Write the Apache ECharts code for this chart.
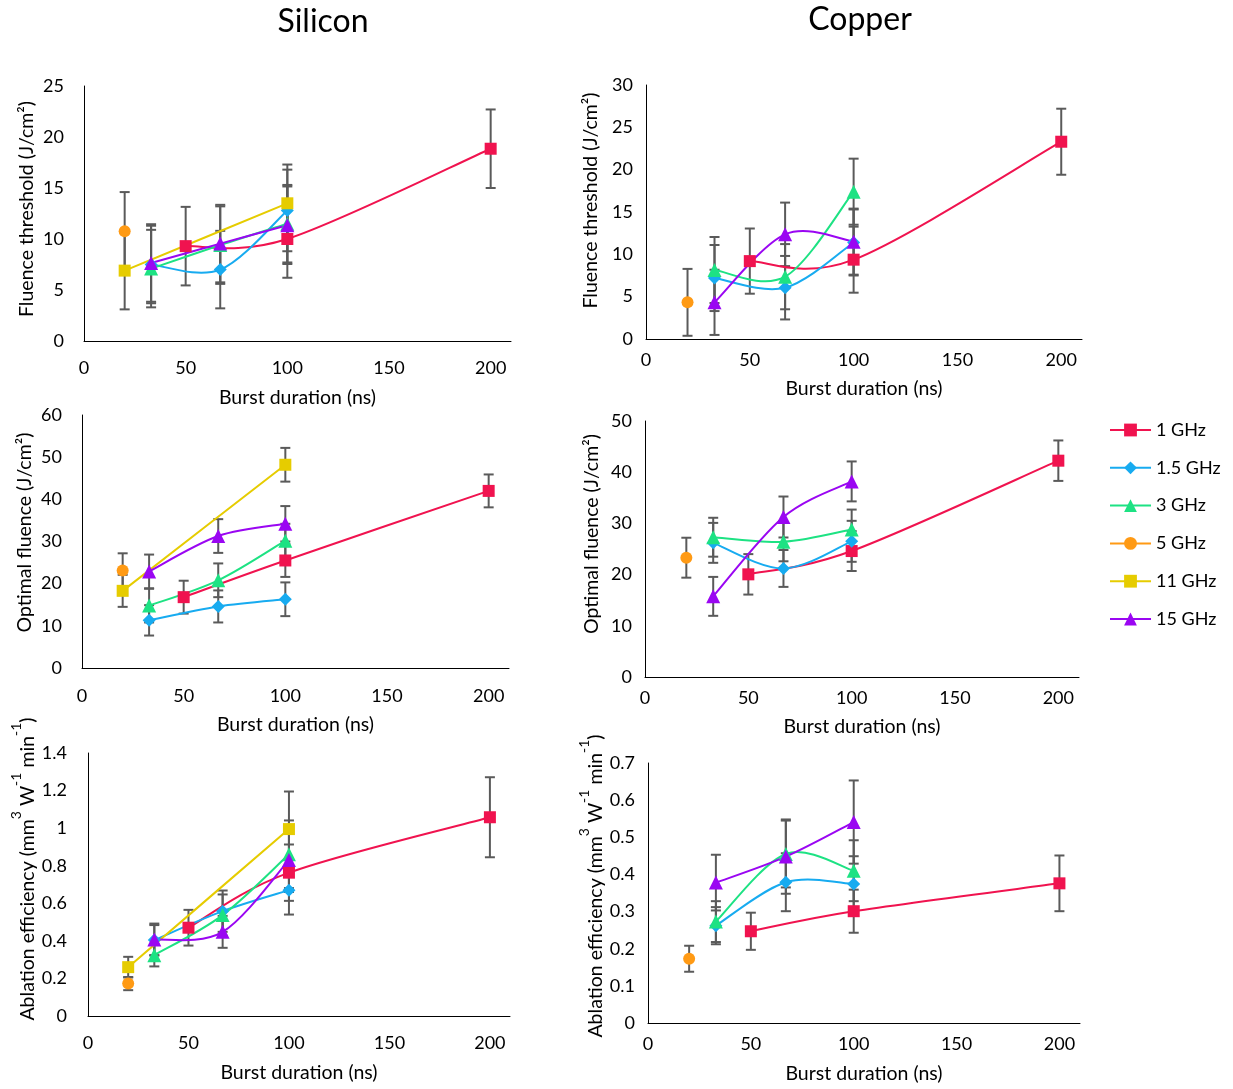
<!DOCTYPE html>
<html>
<head>
<meta charset="utf-8">
<title>Burst duration study – Silicon and Copper</title>
<script src="https://cdn.jsdelivr.net/npm/echarts@6/dist/echarts.min.js"></script>
<style>
  html, body { margin: 0; padding: 0; background: #fff; }
  #chart { width: 1233px; height: 1089px; }
</style>
</head>
<body>
<div id="chart"></div>
<script>
// Repetition frequencies within the burst (series order used everywhere below)
const freqNames = ['1 GHz', '1.5 GHz', '3 GHz', '5 GHz', '11 GHz', '15 GHz'];

// Burst durations (ns) measured for each frequency
const siDurations = [[50, 100, 200], [33, 67, 100], [33, 67, 100], [20], [20, 100], [33, 67, 100]];
const cuDurations = [[50, 100, 200], [33, 67, 100], [33, 67, 100], [20], [], [33, 67, 100]];

// Silicon – fluence threshold (J/cm²) and its uncertainty
const siThresholdVal = [[9.3, 10.0, 18.85], [7.5, 7.0, 12.8], [7.1, 9.4, 11.5], [10.75], [6.9, 13.5], [7.65, 9.55, 11.35]];
const siThresholdErr = [[3.85, 3.8, 3.85], [3.8, 3.8, 4.0], [3.8, 3.8, 3.8], [3.85], [3.8, 3.8], [3.8, 3.8, 3.8]];

// Copper – fluence threshold (J/cm²)
const cuThresholdVal = [[9.2, 9.37, 23.3], [7.2, 6.06, 11.4], [8.15, 7.36, 17.4], [4.33], [], [4.33, 12.36, 11.5]];
const cuThresholdErr = [[3.85, 3.9, 3.9], [3.9, 3.75, 3.9], [3.9, 3.85, 3.9], [3.95], [], [3.85, 3.75, 3.9]];

// Silicon – optimal fluence (J/cm²)
const siOptimalVal = [[16.8, 25.5, 42.0], [11.3, 14.6, 16.3], [14.8, 20.8, 30.2], [23.1], [18.3, 48.2], [22.9, 31.3, 34.2]];
const siOptimalErr = [[3.9, 3.9, 3.9], [3.6, 3.8, 4.0], [4.0, 4.0, 4.0], [4.1], [3.8, 4.0], [4.0, 4.0, 4.2]];

// Copper – optimal fluence (J/cm²)
const cuOptimalVal = [[20.05, 24.6, 42.25], [26.2, 21.2, 26.5], [27.3, 26.4, 28.8], [23.3], [], [15.75, 31.25, 38.2]];
const cuOptimalErr = [[3.95, 3.9, 3.95], [3.9, 3.6, 4.0], [3.8, 3.8, 3.9], [3.9], [], [3.8, 4.0, 3.9]];

// Silicon – ablation efficiency (mm³ W⁻¹ min⁻¹)
const siEfficiencyVal = [[0.47, 0.763, 1.058], [0.404, 0.558, 0.67], [0.324, 0.537, 0.861], [0.1725], [0.26, 0.995], [0.407, 0.448, 0.83]];
const siEfficiencyErr = [[0.095, 0.15, 0.213], [0.08, 0.11, 0.13], [0.06, 0.11, 0.18], [0.035], [0.055, 0.2], [0.085, 0.085, 0.17]];

// Copper – ablation efficiency (mm³ W⁻¹ min⁻¹)
const cuEfficiencyVal = [[0.247, 0.301, 0.376], [0.262, 0.379, 0.374], [0.273, 0.455, 0.41], [0.173], [], [0.378, 0.448, 0.541]];
const cuEfficiencyErr = [[0.05, 0.058, 0.075], [0.05, 0.078, 0.075], [0.055, 0.09, 0.082], [0.035], [], [0.075, 0.1, 0.112]];

// Axis ranges
const xTicks = { min: 0, max: 210, interval: 50 };
const yRanges = [
  { max: 25, interval: 5 }, { max: 30, interval: 5 },
  { max: 60, interval: 10 }, { max: 50, interval: 10 },
  { max: 1.4, interval: 0.2 }, { max: 0.7, interval: 0.1 }
];

// ---------- styling ----------
const FONT = 'Lato, "Open Sans", sans-serif';
const NAME_SIZE = 19.5;
const freqColors = ['#F0134F', '#17ABF0', '#1DE283', '#FF9A14', '#E6CC00', '#9A06F2'];
const freqSymbols = ['rect', 'diamond', 'triangle', 'circle', 'rect', 'triangle'];
const freqSymbolSizes = [12, 13, 14, 12, 12, 14];

const effName = '{b|Ablation efficiency (mm}{s|3}{b| W}{s|-1}{b| min}{s|-1}{b|)}';
const effRich = {
  b: { fontSize: NAME_SIZE, lineHeight: 20, verticalAlign: 'bottom', fontFamily: FONT, color: '#000' },
  s: { fontSize: 14, lineHeight: 28, verticalAlign: 'top', fontFamily: FONT, color: '#000' }
};

const panels = [
  { grid: { left: 84, top: 86, width: 427, height: 255 }, vals: siThresholdVal, errs: siThresholdErr, durs: siDurations,
    yName: 'Fluence threshold (J/cm²)', yLabelMargin: 20, xLabelMargin: 18, xNameGap: 47, yNameGap: 47, yNameShift: 9 },
  { grid: { left: 646, top: 85, width: 436, height: 254 }, vals: cuThresholdVal, errs: cuThresholdErr, durs: cuDurations,
    yName: 'Fluence threshold (J/cm²)', yLabelMargin: 13, xLabelMargin: 12, xNameGap: 40, yNameGap: 45, yNameShift: 23 },
  { grid: { left: 82, top: 415, width: 427, height: 253 }, vals: siOptimalVal, errs: siOptimalErr, durs: siDurations,
    yName: 'Optimal fluence (J/cm²)', yLabelMargin: 20, xLabelMargin: 19, xNameGap: 47, yNameGap: 47, yNameShift: 18 },
  { grid: { left: 645, top: 421, width: 434, height: 256 }, vals: cuOptimalVal, errs: cuOptimalErr, durs: cuDurations,
    yName: 'Optimal fluence (J/cm²)', yLabelMargin: 13, xLabelMargin: 12, xNameGap: 40, yNameGap: 43, yNameShift: 30 },
  { grid: { left: 88, top: 753, width: 422, height: 263 }, vals: siEfficiencyVal, errs: siEfficiencyErr, durs: siDurations,
    yName: effName, rich: true, yLabelMargin: 21, xLabelMargin: 18, xNameGap: 47, yNameGap: 46, yNameShift: 31 },
  { grid: { left: 648, top: 763, width: 432, height: 260 }, vals: cuEfficiencyVal, errs: cuEfficiencyErr, durs: cuDurations,
    yName: effName, rich: true, yLabelMargin: 13, xLabelMargin: 12, xNameGap: 41, yNameGap: 40, yNameShift: 14 }
];

// Vertical error bar with caps, drawn through the panel's own axes
function renderErrorBar(params, api) {
  const x = api.value(0), y = api.value(1), e = api.value(2);
  const hi = api.coord([x, y + e]);
  const lo = api.coord([x, y - e]);
  const hw = 5;
  const style = { stroke: '#5A5A5A', lineWidth: 2 };
  return {
    type: 'group',
    children: [
      { type: 'line', shape: { x1: hi[0], y1: hi[1], x2: lo[0], y2: lo[1] }, style },
      { type: 'line', shape: { x1: hi[0] - hw, y1: hi[1], x2: hi[0] + hw, y2: hi[1] }, style },
      { type: 'line', shape: { x1: lo[0] - hw, y1: lo[1], x2: lo[0] + hw, y2: lo[1] }, style }
    ]
  };
}

// Smoothed connecting curve (Catmull-Rom style Bézier segments in screen space),
// one segment from each point to the next one.
function curveRenderer(xs, ys, color) {
  const n = xs.length;
  return function (params, api) {
    const j = params.dataIndex;
    if (j >= n - 1) return null;
    const P = k => {
      const c = Math.max(0, Math.min(n - 1, k));
      return api.coord([xs[c], ys[c]]);
    };
    const p0 = P(j - 1), p1 = P(j), p2 = P(j + 1), p3 = P(j + 2);
    return {
      type: 'bezierCurve',
      shape: {
        x1: p1[0], y1: p1[1], x2: p2[0], y2: p2[1],
        cpx1: p1[0] + (p2[0] - p0[0]) / 6, cpy1: p1[1] + (p2[1] - p0[1]) / 6,
        cpx2: p2[0] - (p3[0] - p1[0]) / 6, cpy2: p2[1] - (p3[1] - p1[1]) / 6
      },
      style: { stroke: color, lineWidth: 2, fill: null }
    };
  };
}

const axisLine = { show: true, onZero: false, lineStyle: { color: '#000', width: 1 } };
const labelStyle = { fontFamily: FONT, fontSize: 18, color: '#000' };

const grids = [], xAxes = [], yAxes = [], series = [];

panels.forEach((p, i) => {
  grids.push(Object.assign({ containLabel: false }, p.grid));

  xAxes.push({
    type: 'value', gridIndex: i, min: xTicks.min, max: xTicks.max, interval: xTicks.interval,
    name: 'Burst duration (ns)', nameLocation: 'middle', nameGap: p.xNameGap,
    nameTextStyle: { fontFamily: FONT, fontSize: NAME_SIZE, color: '#000', verticalAlign: 'top' },
    axisLine, axisTick: { show: false }, splitLine: { show: false },
    axisLabel: Object.assign({ margin: p.xLabelMargin, showMaxLabel: false }, labelStyle)
  });

  const nameStyle = { fontFamily: FONT, fontSize: NAME_SIZE, color: '#000', padding: [0, 0, 0, p.yNameShift] };
  if (p.rich) nameStyle.rich = effRich;
  yAxes.push({
    type: 'value', gridIndex: i, min: 0, max: yRanges[i].max, interval: yRanges[i].interval,
    name: p.yName, nameLocation: 'middle', nameGap: p.yNameGap, nameTextStyle: nameStyle,
    axisLine, axisTick: { show: false }, splitLine: { show: false },
    axisLabel: Object.assign({ margin: p.yLabelMargin }, labelStyle)
  });

  const bars = [];
  freqNames.forEach((name, k) => {
    const xs = p.durs[k];
    if (!xs.length) return;
    const ys = p.vals[k];
    const pts = xs.map((x, j) => [x, ys[j]]);
    xs.forEach((x, j) => bars.push([x, ys[j], p.errs[k][j]]));

    // connecting curve
    series.push({
      type: 'custom', name: name + ' curve', xAxisIndex: i, yAxisIndex: i,
      renderItem: curveRenderer(xs, ys, freqColors[k]), data: pts,
      encode: { x: 0, y: 1 }, z: 2, silent: true
    });
    // markers
    series.push({
      type: 'line', name, xAxisIndex: i, yAxisIndex: i, data: pts, z: 3,
      symbol: freqSymbols[k], symbolSize: freqSymbolSizes[k],
      showSymbol: true, showAllSymbol: true,
      lineStyle: { color: freqColors[k], width: 2, opacity: 0 },
      itemStyle: { color: freqColors[k] },
      emphasis: { disabled: true }
    });
  });

  series.push({
    type: 'custom', name: 'error', xAxisIndex: i, yAxisIndex: i,
    renderItem: renderErrorBar, data: bars, encode: { x: 0, y: 1 }, z: 1, silent: true
  });
});

const chart = echarts.init(document.getElementById('chart'), null, { renderer: 'canvas' });
chart.setOption({
  animation: false,
  backgroundColor: '#fff',
  textStyle: { fontFamily: FONT },
  graphic: [
    { type: 'text', x: 323, y: 22, style: { text: 'Silicon', fontFamily: FONT, fontSize: 32, fill: '#000', align: 'center', verticalAlign: 'middle' } },
    { type: 'text', x: 860, y: 20, style: { text: 'Copper', fontFamily: FONT, fontSize: 32, fill: '#000', align: 'center', verticalAlign: 'middle' } }
  ],
  legend: {
    data: freqNames, orient: 'vertical', left: 1104, top: 416,
    itemWidth: 41, itemHeight: 16, itemGap: 19.8,
    lineStyle: { width: 2, opacity: 1 },
    textStyle: { fontFamily: FONT, fontSize: 18, color: '#000', lineHeight: 18 },
    selectedMode: false
  },
  grid: grids, xAxis: xAxes, yAxis: yAxes, series
});
</script>
</body>
</html>
